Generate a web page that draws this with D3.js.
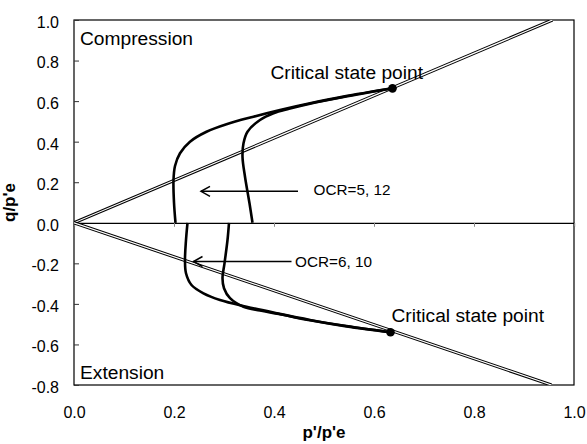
<!DOCTYPE html>
<html>
<head>
<meta charset="utf-8">
<script src="https://cdn.jsdelivr.net/npm/d3@7"></script>
<style>
  html, body { margin: 0; padding: 0; background: #fff; }
  svg { display: block; font-family: "Liberation Sans", Arial, Helvetica, sans-serif; }
</style>
</head>
<body>
<svg id="chart" width="587" height="444"></svg>
<script>
// ---- data ----
const xTicks = [0.0, 0.2, 0.4, 0.6, 0.8, 1.0];
const yTicks = [-0.8, -0.6, -0.4, -0.2, 0.0, 0.2, 0.4, 0.6, 0.8, 1.0];

// critical state lines (through origin)
const cslCompression = [[0, 0], [0.957, 1.0]];
const cslExtension   = [[0, 0], [0.955, -0.8]];

// critical state points
const csPoints = [[0.637, 0.663], [0.633, -0.540]];

// stress paths, compression (OCR = 5, 12)
const compA = [[0.203,0],[0.200,0.10],[0.199,0.21],[0.202,0.28],[0.212,0.343],[0.232,0.40],[0.265,0.449],[0.305,0.486],[0.359,0.523],[0.412,0.556],[0.472,0.589],[0.539,0.622],[0.637,0.663]];
const compB = [[0.357,0],[0.351,0.096],[0.342,0.227],[0.337,0.326],[0.339,0.392],[0.347,0.449],[0.372,0.507],[0.399,0.540],[0.43,0.562],[0.472,0.587],[0.539,0.620],[0.637,0.663]];
// stress paths, extension (OCR = 6, 10)
const extA = [[0.227,0],[0.224,-0.085],[0.222,-0.183],[0.224,-0.249],[0.235,-0.307],[0.259,-0.348],[0.292,-0.381],[0.345,-0.414],[0.405,-0.446],[0.472,-0.479],[0.545,-0.509],[0.633,-0.540]];
const extB = [[0.310,0],[0.307,-0.085],[0.301,-0.2],[0.297,-0.274],[0.300,-0.323],[0.312,-0.372],[0.339,-0.414],[0.372,-0.433],[0.41,-0.450],[0.472,-0.481],[0.545,-0.511],[0.633,-0.540]];

// annotations
const ocrLabels = [
  {text: "OCR=5, 12", tx: 0.479, ty: 0.137, ax1: 0.448, ax2: 0.254, ay: 0.155},
  {text: "OCR=6, 10", tx: 0.442, ty: -0.219, ax1: 0.435, ax2: 0.239, ay: -0.191}
];
const csLabels = [
  {text: "Critical state point", x: 0.393, y: 0.711},
  {text: "Critical state point", x: 0.635, y: -0.490}
];

// ---- layout ----
const svg = d3.select("#chart");
const L = 74, R = 574, T = 20, B = 385;
const x = d3.scaleLinear().domain([0, 1]).range([L, R]);
const y = d3.scaleLinear().domain([-0.8, 1.0]).range([B, T]);

svg.append("defs").append("clipPath").attr("id", "plotclip")
  .append("rect").attr("x", L).attr("y", T).attr("width", R - L).attr("height", B - T);

// frame
svg.append("rect").attr("x", L).attr("y", T).attr("width", R - L).attr("height", B - T)
  .attr("fill", "none").attr("stroke", "#000").attr("stroke-width", 1.2);

// y axis (inside ticks)
const fmt = d => d.toFixed(1);
const yAxis = svg.append("g").attr("transform", `translate(${L},0)`)
  .call(d3.axisLeft(y).tickValues(yTicks).tickSize(-5).tickPadding(15).tickFormat(fmt));
yAxis.select(".domain").remove();
yAxis.selectAll(".tick line").attr("stroke", "#333");
yAxis.selectAll(".tick text").attr("font-size", 16).attr("fill", "#000").attr("dy", "0.46em")
  .style("font-family", "Liberation Sans, Arial, sans-serif");

// x axis ticks on the zero line
const xAxisZero = svg.append("g").attr("transform", `translate(0,${y(0)})`)
  .call(d3.axisBottom(x).tickValues(xTicks).tickSize(4).tickFormat(""));
xAxisZero.select(".domain").attr("stroke", "#000").attr("stroke-width", 1.2);
xAxisZero.selectAll(".tick line").attr("stroke", "#888");

// x labels at the bottom
const xLab = svg.append("g").attr("transform", `translate(0,${B})`)
  .call(d3.axisBottom(x).tickValues(xTicks).tickSize(0).tickPadding(22).tickFormat(fmt));
xLab.select(".domain").remove();
xLab.selectAll(".tick text").attr("font-size", 16).attr("fill", "#000")
  .style("font-family", "Liberation Sans, Arial, sans-serif");

// critical state lines (double lines)
const plot = svg.append("g").attr("clip-path", "url(#plotclip)");
const straight = d3.line().x(d => x(d[0])).y(d => y(d[1]));
[cslCompression, cslExtension].forEach(l => {
  plot.append("path").attr("d", straight(l)).attr("stroke", "#000").attr("stroke-width", 3.2).attr("fill", "none");
  plot.append("path").attr("d", straight(l)).attr("stroke", "#fff").attr("stroke-width", 1.2).attr("fill", "none");
});

// stress paths
const smooth = d3.line().x(d => x(d[0])).y(d => y(d[1])).curve(d3.curveCatmullRom.alpha(0.5));
[compA, compB, extA, extB].forEach(p => {
  svg.append("path").attr("d", smooth(p)).attr("stroke", "#000").attr("stroke-width", 2.6)
    .attr("fill", "none").attr("stroke-linecap", "butt");
});

// critical state points
svg.selectAll("circle.cs").data(csPoints).enter().append("circle")
  .attr("class", "cs").attr("cx", d => x(d[0])).attr("cy", d => y(d[1])).attr("r", 4.3).attr("fill", "#000");

// arrows and OCR labels
ocrLabels.forEach(o => {
  const x1 = x(o.ax1), x2 = x(o.ax2), yy = y(o.ay);
  svg.append("line").attr("x1", x1).attr("y1", yy).attr("x2", x2).attr("y2", yy)
    .attr("stroke", "#000").attr("stroke-width", 1.5);
  svg.append("path").attr("d", `M${x2 + 9},${yy - 5}L${x2},${yy}L${x2 + 9},${yy + 5}`)
    .attr("stroke", "#000").attr("stroke-width", 1.5).attr("fill", "none");
  svg.append("text").attr("x", x(o.tx)).attr("y", y(o.ty)).attr("font-size", 15.3).text(o.text);
});

// CS labels
csLabels.forEach(c => {
  svg.append("text").attr("x", x(c.x)).attr("y", y(c.y)).attr("font-size", 19.2).text(c.text);
});

// region labels
svg.append("text").attr("x", 80).attr("y", 45).attr("font-size", 19.2).text("Compression");
svg.append("text").attr("x", 80).attr("y", 379).attr("font-size", 19.2).text("Extension");

// axis titles
svg.append("text").attr("x", (L + R) / 2).attr("y", 438).attr("text-anchor", "middle")
  .attr("font-size", 17).attr("font-weight", "bold").text("p'/p'e");
svg.append("text").attr("transform", `translate(15,${(T + B) / 2}) rotate(-90)`).attr("text-anchor", "middle")
  .attr("font-size", 17).attr("font-weight", "bold").text("q/p'e");
</script>
</body>
</html>
